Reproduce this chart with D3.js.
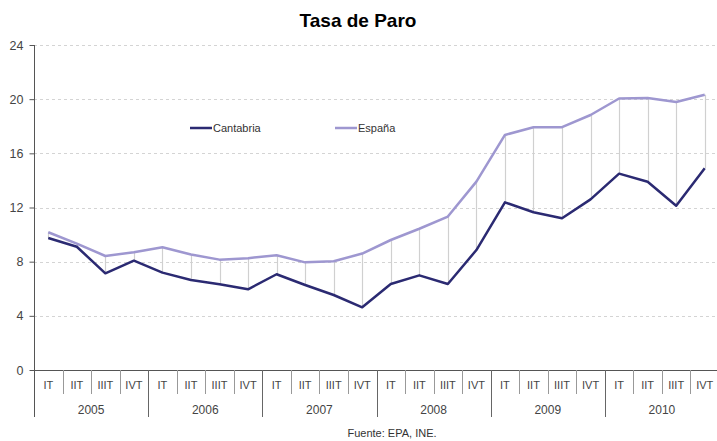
<!DOCTYPE html>
<html>
<head>
<meta charset="utf-8">
<script src="https://cdn.jsdelivr.net/npm/d3@7"></script>
<style>
  body { margin: 0; background: #fff; }
  text { font-family: "Liberation Sans", Arial, sans-serif; }
</style>
</head>
<body>
<div class="chart"></div>
<script>
//Data
var years = ["2005", "2006", "2007", "2008", "2009", "2010"];
var quarters = ["IT", "IIT", "IIIT", "IVT"];
var cantabria = [9.75, 9.1, 7.14, 8.07, 7.19, 6.65, 6.33, 5.96, 7.07, 6.28, 5.54, 4.63,
                 6.35, 6.99, 6.35, 8.86, 12.38, 11.65, 11.2, 12.6, 14.5, 13.9, 12.13, 14.9];
var espana = [10.17, 9.33, 8.42, 8.70, 9.07, 8.53, 8.15, 8.26, 8.47, 7.95, 8.03, 8.60,
              9.60, 10.43, 11.33, 13.91, 17.36, 17.92, 17.93, 18.83, 20.05, 20.09, 19.79, 20.33];
var yTicks = [0, 4, 8, 12, 16, 20, 24];

//NB: "top" is taken by window.top, so plot edges get their own names
var width = 717, height = 441;
var plotLeft = 34, plotRight = 719, plotTop = 45, plotBottom = 370;

//Every period = year + quarter
var periods = [];
years.forEach(function (yr) {
    quarters.forEach(function (q) { periods.push(yr + "-" + q); });
});

var svg = d3.select(".chart")
    .append("svg")
    .attr("width", width)
    .attr("height", height);

var x = d3.scaleBand().domain(periods).range([plotLeft, plotRight]);
var xYear = d3.scaleBand().domain(years).range([plotLeft, plotRight]);
var y = d3.scaleLinear().domain([0, 24]).range([plotBottom, plotTop]);

//Title
svg.append("text")
    .attr("x", 358)
    .attr("y", 27)
    .attr("text-anchor", "middle")
    .style("font-size", "19px")
    .style("font-weight", "bold")
    .attr("fill", "#000")
    .text("Tasa de Paro");

//Gridlines
svg.append("g")
    .selectAll("line")
    .data(yTicks.filter(function (d) { return d > 0; }))
    .join("line")
    .attr("x1", plotLeft)
    .attr("x2", width)
    .attr("y1", function (d) { return Math.round(y(d)) + 0.5; })
    .attr("y2", function (d) { return Math.round(y(d)) + 0.5; })
    .attr("stroke", "#d4d4d4")
    .attr("stroke-dasharray", "3,3");

//Y axis
var yAxis = svg.append("g")
    .attr("transform", "translate(" + (plotLeft + 0.5) + ",0)")
    .call(d3.axisLeft(y).tickValues(yTicks).tickSize(5).tickPadding(4));
yAxis.select(".domain").attr("stroke", "#555").attr("d", "M0," + plotTop + "V417");
yAxis.selectAll(".tick line").attr("stroke", "#555");
yAxis.selectAll(".tick text")
    .style("font-size", "12.5px")
    .style("font-family", "'Liberation Sans', Arial, sans-serif")
    .attr("fill", "#444")
    .attr("dx", "-2");

//High-low lines between the two series
var mid = function (d) { return x(d) + x.bandwidth() / 2; };
svg.append("g")
    .selectAll("line")
    .data(periods)
    .join("line")
    .attr("x1", function (d) { return Math.round(mid(d)) + 0.5; })
    .attr("x2", function (d) { return Math.round(mid(d)) + 0.5; })
    .attr("y1", function (d, i) { return y(cantabria[i]); })
    .attr("y2", function (d, i) { return y(espana[i]); })
    .attr("stroke", "#d0d0d0")
    .attr("stroke-width", 1.2);

//X axis line
svg.append("line")
    .attr("x1", plotLeft)
    .attr("x2", width)
    .attr("y1", plotBottom + 0.5)
    .attr("y2", plotBottom + 0.5)
    .attr("stroke", "#555");

//Quarter separators and labels
svg.append("g")
    .selectAll("line")
    .data(periods.slice(1))
    .join("line")
    .attr("x1", function (d) { return Math.round(x(d)) + 0.5; })
    .attr("x2", function (d) { return Math.round(x(d)) + 0.5; })
    .attr("y1", plotBottom)
    .attr("y2", function (d) { return d.endsWith("-IT") ? 417 : 394; })
    .attr("stroke", function (d) { return d.endsWith("-IT") ? "#666" : "#999"; });

svg.append("g")
    .selectAll("text")
    .data(periods)
    .join("text")
    .attr("x", mid)
    .attr("y", 389)
    .attr("text-anchor", "middle")
    .style("font-size", "11px")
    .attr("fill", "#444")
    .text(function (d) { return d.split("-")[1]; });

svg.append("g")
    .selectAll("text")
    .data(years)
    .join("text")
    .attr("x", function (d) { return xYear(d) + xYear.bandwidth() / 2; })
    .attr("y", 414)
    .attr("text-anchor", "middle")
    .style("font-size", "12px")
    .attr("fill", "#444")
    .text(function (d) { return d; });

//Series lines
var series = [
    { name: "Cantabria", values: cantabria, color: "#2b2a72" },
    { name: "España", values: espana, color: "#9e97d0" }
];
var line = d3.line()
    .x(function (d, i) { return mid(periods[i]); })
    .y(function (d) { return y(d); });

svg.append("g")
    .selectAll("path")
    .data(series.slice().reverse())
    .join("path")
    .attr("d", function (s) { return line(s.values); })
    .attr("fill", "none")
    .attr("stroke", function (s) { return s.color; })
    .attr("stroke-width", 2.5)
    .attr("stroke-linejoin", "round");

//Legend
var legendX = [190, 335];
var legend = svg.append("g")
    .selectAll("g")
    .data(series)
    .join("g")
    .attr("transform", function (s, i) { return "translate(" + legendX[i] + ",128)"; });
legend.append("line")
    .attr("x1", 0)
    .attr("x2", 22)
    .attr("stroke", function (s) { return s.color; })
    .attr("stroke-width", 2.5);
legend.append("text")
    .attr("x", 23)
    .attr("y", 4)
    .style("font-size", "11px")
    .attr("fill", "#333")
    .text(function (s) { return s.name; });

//Source
svg.append("text")
    .attr("x", 392)
    .attr("y", 437)
    .attr("text-anchor", "middle")
    .style("font-size", "11px")
    .attr("fill", "#333")
    .text("Fuente: EPA, INE.");
</script>
</body>
</html>
